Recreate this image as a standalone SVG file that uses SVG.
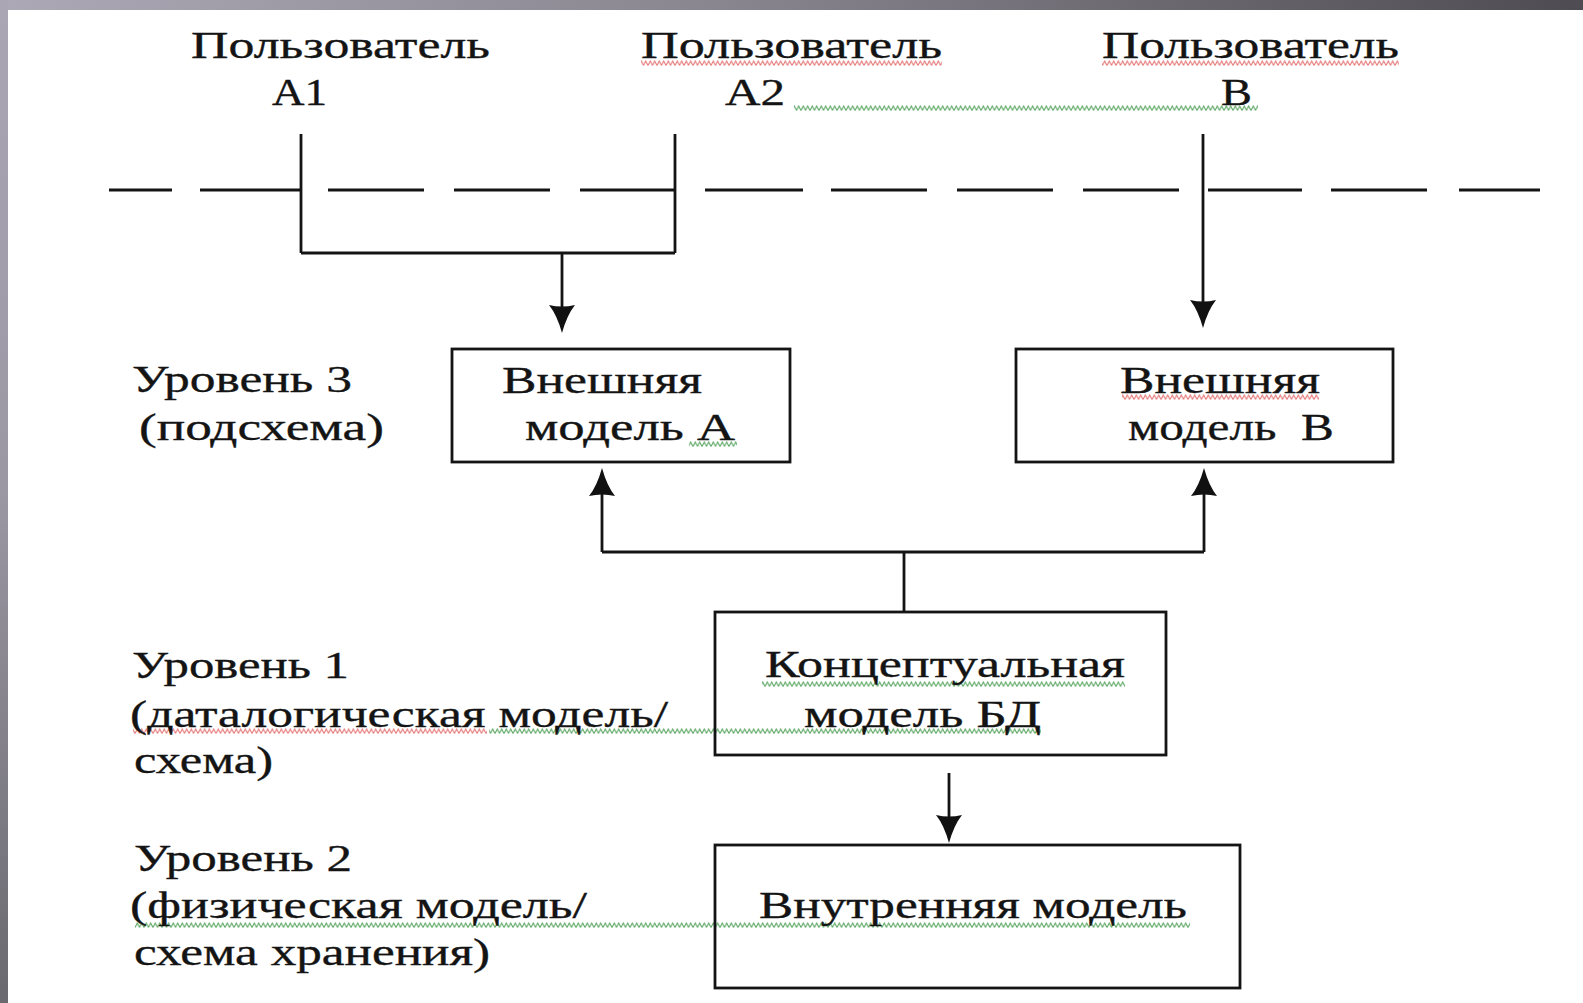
<svg xmlns="http://www.w3.org/2000/svg" width="1583" height="1003" viewBox="0 0 1583 1003">
<defs>
<linearGradient id="gTop" x1="0" y1="0" x2="1" y2="0">
<stop offset="0" stop-color="#aca8b5"/>
<stop offset="0.45" stop-color="#8a8690"/>
<stop offset="1" stop-color="#4e4c52"/>
</linearGradient>
<linearGradient id="gLeft" x1="0" y1="0" x2="0" y2="1">
<stop offset="0" stop-color="#aaa6b3"/>
<stop offset="0.5" stop-color="#9a96a2"/>
<stop offset="1" stop-color="#6a696f"/>
</linearGradient>
<pattern id="wavR" patternUnits="userSpaceOnUse" width="4.5" height="7">
<path d="M0,5.5 L2.25,1 L4.5,5.5" fill="none" stroke="#e05a5a" stroke-width="1.1" opacity="0.8"/>
</pattern>
<pattern id="wavG" patternUnits="userSpaceOnUse" width="4.5" height="7">
<path d="M0,5.5 L2.25,1 L4.5,5.5" fill="none" stroke="#3a9442" stroke-width="1.1" opacity="0.8"/>
</pattern>
<marker id="arr" viewBox="0 0 28 26" refX="20" refY="13" markerWidth="28" markerHeight="26" markerUnits="userSpaceOnUse" orient="auto">
<path d="M0,0 Q10,8 28,13 Q10,18 0,26 Q3,13 0,0 z" fill="#111"/>
</marker>
<style>
.t{font-family:"Liberation Serif","DejaVu Serif",serif;font-size:38px;fill:#141414;stroke:#141414;stroke-width:0.35;white-space:pre}
.ln{fill:none;stroke:#141414;stroke-width:2.8}
.bx{fill:none;stroke:#141414;stroke-width:2.8}
.wr{fill:url(#wavR)}
.wg{fill:url(#wavG)}
</style>
</defs>
<rect x="0" y="0" width="1583" height="1003" fill="#ffffff"/>
<rect x="0" y="0" width="1583" height="10" fill="url(#gTop)"/>
<rect x="0" y="0" width="8" height="1003" fill="url(#gLeft)"/>

<g id="squiggles">
<g transform="translate(0,60)"><rect class="wr" x="641" y="0" width="301" height="7"/><rect class="wr" x="1102" y="0" width="297" height="7"/></g>
<g transform="translate(0,105)"><rect class="wg" x="794" y="0" width="464" height="7"/></g>
<g transform="translate(0,394)"><rect class="wr" x="1122" y="0" width="197" height="7"/></g>
<g transform="translate(0,441)"><rect class="wg" x="689" y="0" width="48" height="7"/></g>
<g transform="translate(0,681)"><rect class="wg" x="762" y="0" width="363" height="7"/></g>
<g transform="translate(0,728)"><rect class="wr" x="133" y="0" width="354" height="7"/><rect class="wg" x="489" y="0" width="552" height="7"/></g>
<g transform="translate(0,922)"><rect class="wg" x="135" y="0" width="1055" height="7"/></g>
</g>

<g id="separator">
<path class="ln" d="M109,190 H172 M200,190 H300 M328,190 H424 M454,190 H550 M580,190 H674 M705,190 H803 M831,190 H927 M957,190 H1053 M1083,190 H1179 M1208,190 H1302 M1331,190 H1427 M1459,190 H1540"/>
</g>

<g id="user-a1">
<text class="t" x="191" y="58" textLength="299" lengthAdjust="spacingAndGlyphs">Пользователь</text>
<text class="t" x="272" y="105" textLength="55" lengthAdjust="spacingAndGlyphs">А1</text>
</g>
<g id="user-a2">
<text class="t" x="641" y="58" textLength="301" lengthAdjust="spacingAndGlyphs">Пользователь</text>
<text class="t" x="725" y="105" textLength="60" lengthAdjust="spacingAndGlyphs">А2</text>
</g>
<g id="user-b">
<text class="t" x="1102" y="58" textLength="297" lengthAdjust="spacingAndGlyphs">Пользователь</text>
<text class="t" x="1221" y="105" textLength="31" lengthAdjust="spacingAndGlyphs">В</text>
</g>

<g id="level3-label">
<text class="t" x="132" y="392" textLength="220" lengthAdjust="spacingAndGlyphs">Уровень 3</text>
<text class="t" x="139" y="440" textLength="245" lengthAdjust="spacingAndGlyphs">(подсхема)</text>
</g>
<g id="level1-label">
<text class="t" x="132" y="678" textLength="217" lengthAdjust="spacingAndGlyphs">Уровень 1</text>
<text class="t" x="130" y="727" textLength="538" lengthAdjust="spacingAndGlyphs">(даталогическая модель/</text>
<text class="t" x="134" y="773" textLength="139" lengthAdjust="spacingAndGlyphs">схема)</text>
</g>
<g id="level2-label">
<text class="t" x="134" y="871" textLength="218" lengthAdjust="spacingAndGlyphs">Уровень 2</text>
<text class="t" x="130" y="918" textLength="457" lengthAdjust="spacingAndGlyphs">(физическая модель/</text>
<text class="t" x="134" y="965" textLength="356" lengthAdjust="spacingAndGlyphs">схема хранения)</text>
</g>

<g id="ext-model-a">
<rect class="bx" x="452" y="349" width="338" height="113"/>
<text class="t" x="502" y="393" textLength="200" lengthAdjust="spacingAndGlyphs">Внешняя</text>
<text class="t" x="525" y="440" textLength="210" lengthAdjust="spacingAndGlyphs">модель А</text>
</g>
<g id="ext-model-b">
<rect class="bx" x="1016" y="349" width="377" height="113"/>
<text class="t" x="1120" y="393" textLength="200" lengthAdjust="spacingAndGlyphs">Внешняя</text>
<text class="t" x="1128" y="440" textLength="206" lengthAdjust="spacingAndGlyphs">модель  В</text>
</g>
<g id="conceptual-model">
<rect class="bx" x="715" y="612" width="451" height="143"/>
<text class="t" x="765" y="677" textLength="360" lengthAdjust="spacingAndGlyphs">Концептуальная</text>
<text class="t" x="804" y="727" textLength="237" lengthAdjust="spacingAndGlyphs">модель БД</text>
</g>
<g id="internal-model">
<rect class="bx" x="715" y="845" width="525" height="143"/>
<text class="t" x="759" y="918" textLength="428" lengthAdjust="spacingAndGlyphs">Внутренняя модель</text>
</g>

<g id="connectors">
<path class="ln" d="M301,134 V253 M675,134 V253 M301,253 H675"/>
<path class="ln" d="M562,253 V325" marker-end="url(#arr)"/>
<path class="ln" d="M1203,134 V320" marker-end="url(#arr)"/>
<path class="ln" d="M602,552 H1204 M904,552 V612"/>
<path class="ln" d="M602,552 V476" marker-end="url(#arr)"/>
<path class="ln" d="M1204,552 V476" marker-end="url(#arr)"/>
<path class="ln" d="M949,773 V835" marker-end="url(#arr)"/>
</g>
</svg>
